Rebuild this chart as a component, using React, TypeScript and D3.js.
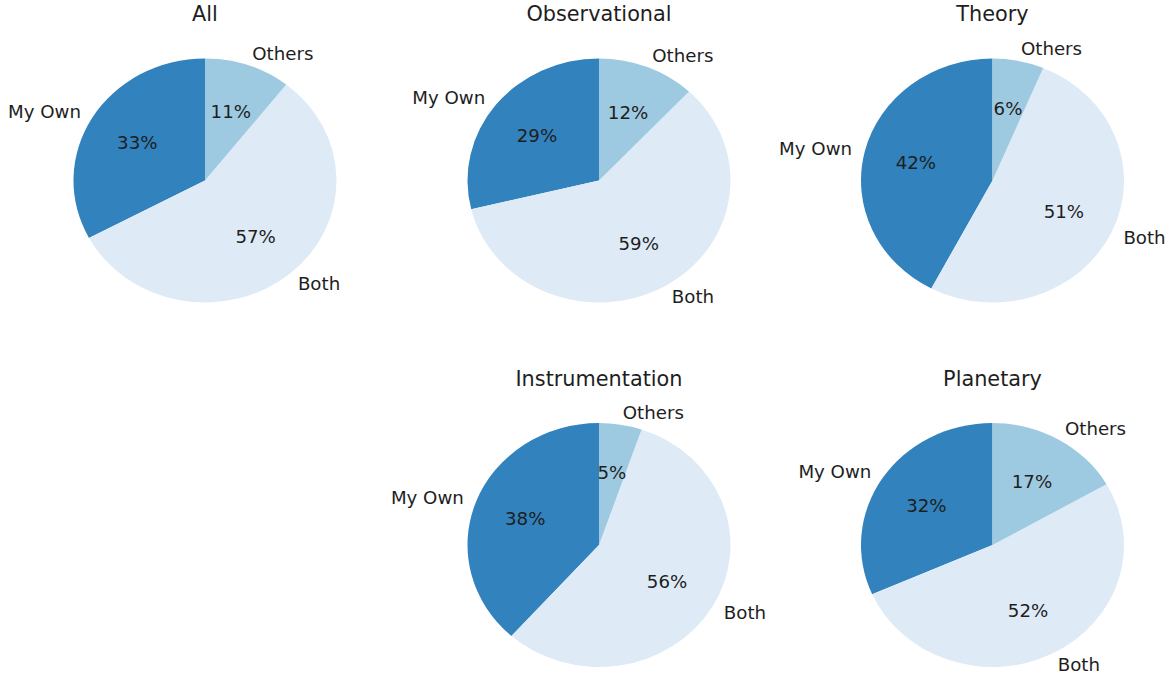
import React from "react";
import * as d3 from "d3";

// Data
const categories = ["My Own", "Both", "Others"];
const panelTitles = ["All", "Observational", "Theory", "Instrumentation", "Planetary"];
const allValues = [32.8, 56.6, 10.6];
const observationalValues = [28.8, 59.2, 12.0];
const theoryValues = [42.3, 51.4, 6.3];
const instrumentationValues = [38.4, 56.35, 5.25];
const planetaryValues = [31.6, 51.7, 16.7];
const panelValues = [allValues, observationalValues, theoryValues, instrumentationValues, planetaryValues];
// grid slot (row, col) for each panel
const panelSlots: [number, number][] = [[0, 0], [0, 1], [0, 2], [1, 1], [1, 2]];
const colors = ["#3182bd", "#deebf7", "#9ecae1"];

const W = 1167;
const H = 673;
const colX = [205, 599, 992.5];
const rowY = [180.5, 545];
const RX = 131.5;
const RY = 122;
const textColor = "#1e1e1e";
const font = "'DejaVu Sans', sans-serif";

function Pie({ title, values, cx, cy }: { title: string; values: number[]; cx: number; cy: number }) {
  const total = d3.sum(values);
  const pie = d3.pie<number>().sort(null).startAngle(0).endAngle(-2 * Math.PI);
  const arcs = pie(values);
  const arc = d3.arc<d3.PieArcDatum<number>>().innerRadius(0).outerRadius(RY);
  return (
    <g>
      <g transform={`translate(${cx},${cy}) scale(${RX / RY},1)`}>
        {arcs.map((a, i) => (
          <path key={i} d={arc(a) || ""} fill={colors[i]} />
        ))}
      </g>
      {arcs.map((a, i) => {
        const mid = (a.startAngle + a.endAngle) / 2;
        const sx = Math.sin(mid);
        const sy = -Math.cos(mid);
        const lx = cx + 1.1 * RX * sx;
        const ly = cy + 1.1 * RY * sy;
        const px = cx + 0.6 * RX * sx;
        const py = cy + 0.6 * RY * sy;
        const pct = Math.round((values[i] / total) * 100);
        return (
          <g key={"t" + i}>
            <text
              x={lx}
              y={ly}
              textAnchor={sx > 0 ? "start" : "end"}
              dominantBaseline="central"
              fontSize={18.2}
              fill={textColor}
              fontFamily={font}
            >
              {categories[i]}
            </text>
            <text
              x={px}
              y={py}
              textAnchor="middle"
              dominantBaseline="central"
              fontSize={18.2}
              fill={textColor}
              fontFamily={font}
            >
              {pct}%
            </text>
          </g>
        );
      })}
      <text x={cx} y={cy - 159.5} textAnchor="middle" fontSize={20.8} fill={textColor} fontFamily={font}>
        {title}
      </text>
    </g>
  );
}

export default function App() {
  return (
    <svg width={W} height={H} style={{ position: "absolute", left: 0, top: 0, background: "#fff" }}>
      <rect x={0} y={0} width={W} height={H} fill="#fff" />
      {panelTitles.map((t, i) => (
        <Pie
          key={t}
          title={t}
          values={panelValues[i]}
          cx={colX[panelSlots[i][1]]}
          cy={rowY[panelSlots[i][0]]}
        />
      ))}
    </svg>
  );
}
